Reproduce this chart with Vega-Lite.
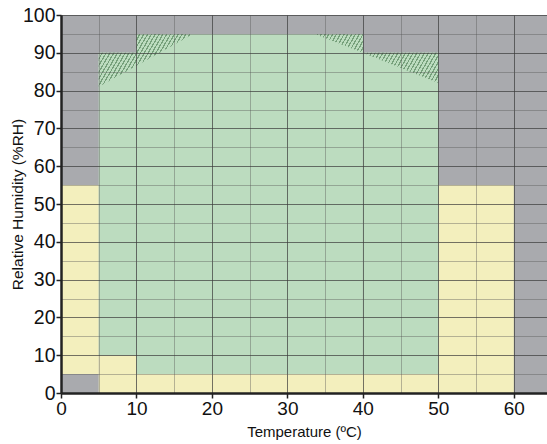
{
  "$schema": "https://vega.github.io/schema/vega-lite/v6.json",
  "autosize": {"type": "none"},
  "padding": {"left": 61, "top": 15, "right": 0, "bottom": 51},
  "width": 486,
  "height": 378,
  "background": "white",
  "config": {
    "view": {"stroke": null, "fill": "#a9aaae"},
    "font": "Liberation Sans"
  },
  "datasets": {
    "regions": [
      {"x": 0, "x2": 5, "y": 5, "y2": 55, "kind": "yellow"},
      {"x": 5, "x2": 10, "y": 0, "y2": 10, "kind": "yellow"},
      {"x": 10, "x2": 50, "y": 0, "y2": 5, "kind": "yellow"},
      {"x": 50, "x2": 60, "y": 0, "y2": 55, "kind": "yellow"},
      {"x": 5, "x2": 10, "y": 10, "y2": 90, "kind": "green"},
      {"x": 10, "x2": 40, "y": 5, "y2": 95, "kind": "green"},
      {"x": 40, "x2": 50, "y": 5, "y2": 90, "kind": "green"}
    ],
    "hatchL": [
      {"x": 5, "y": 81, "y2": 90},
      {"x": 10, "y": 86.6, "y2": 90},
      {"x": 10.001, "y": 86.6, "y2": 95},
      {"x": 17.5, "y": 95, "y2": 95}
    ],
    "hatchR": [
      {"x": 33.6, "y": 95, "y2": 95},
      {"x": 40, "y": 90, "y2": 95},
      {"x": 40.001, "y": 90, "y2": 90},
      {"x": 50, "y": 82, "y2": 90}
    ]
  },
  "encoding": {
    "x": {
      "field": "x", "type": "quantitative",
      "scale": {"domain": [0, 64.4], "nice": false, "zero": false},
      "axis": {
        "title": "Temperature (ºC)",
        "values": [0, 5, 10, 15, 20, 25, 30, 35, 40, 45, 50, 55, 60],
        "labelExpr": "datum.value % 10 === 0 ? datum.label : ''",
        "labelFlush": false,
        "grid": true,
        "gridColor": {"condition": {"test": "datum.value % 10 === 0", "value": "#3a3a3a"}, "value": "#555555"},
        "gridOpacity": {"condition": {"test": "datum.value % 10 === 0", "value": 0.7}, "value": 0.4},
        "tickOpacity": {"condition": {"test": "datum.value % 10 === 0", "value": 1}, "value": 0},
        "tickSize": 5, "tickColor": "#222222", "tickWidth": 1.5,
        "domainColor": "#222222", "domainWidth": 2.5,
        "labelFont": "Liberation Sans", "labelFontSize": 19, "labelColor": "#111111", "labelPadding": 1,
        "titleFont": "Liberation Sans", "titleFontSize": 15, "titleFontWeight": "normal", "titleColor": "#111111", "titlePadding": 6,
        "zindex": 1
      }
    },
    "y": {
      "field": "y", "type": "quantitative",
      "scale": {"domain": [0, 100], "nice": false, "zero": false},
      "axis": {
        "title": "Relative Humidity (%RH)",
        "values": [0, 5, 10, 15, 20, 25, 30, 35, 40, 45, 50, 55, 60, 65, 70, 75, 80, 85, 90, 95, 100],
        "labelExpr": "datum.value % 10 === 0 ? datum.label : ''",
        "grid": true,
        "gridColor": {"condition": {"test": "datum.value % 10 === 0", "value": "#3a3a3a"}, "value": "#555555"},
        "gridOpacity": {"condition": {"test": "datum.value % 10 === 0", "value": 0.7}, "value": 0.4},
        "tickOpacity": {"condition": {"test": "datum.value % 10 === 0", "value": 1}, "value": 0},
        "tickSize": 5, "tickColor": "#222222", "tickWidth": 1.5,
        "domainColor": "#222222", "domainWidth": 2.5,
        "labelFont": "Liberation Sans", "labelFontSize": 19.5, "labelColor": "#111111", "labelPadding": 1,
        "titleFont": "Liberation Sans", "titleFontSize": 15.5, "titleFontWeight": "normal", "titleColor": "#111111", "titlePadding": -3,
        "zindex": 1
      }
    }
  },
  "layer": [
    {
      "data": {"name": "regions"},
      "mark": {"type": "rect", "opacity": 1},
      "encoding": {
        "x2": {"field": "x2"},
        "y2": {"field": "y2"},
        "color": {"field": "kind", "type": "nominal", "scale": {"domain": ["yellow", "green"], "range": ["#f3efbd", "#bcdcbf"]}, "legend": null}
      }
    },
    {
      "data": {"name": "hatchL"},
      "mark": {"type": "area", "opacity": 1, "fill": {"gradient": "linear", "x1": 0, "y1": 0, "x2": 1.466, "y2": 0.478, "stops": [
        {"offset": 0, "color": "#bcdcbf"}, {"offset": 0.016, "color": "#bcdcbf"}, {"offset": 0.016, "color": "#76a07b"}, {"offset": 0.025, "color": "#76a07b"},
        {"offset": 0.025, "color": "#bcdcbf"}, {"offset": 0.041, "color": "#bcdcbf"}, {"offset": 0.041, "color": "#76a07b"}, {"offset": 0.05, "color": "#76a07b"},
        {"offset": 0.05, "color": "#bcdcbf"}, {"offset": 0.066, "color": "#bcdcbf"}, {"offset": 0.066, "color": "#76a07b"}, {"offset": 0.075, "color": "#76a07b"},
        {"offset": 0.075, "color": "#bcdcbf"}, {"offset": 0.091, "color": "#bcdcbf"}, {"offset": 0.091, "color": "#76a07b"}, {"offset": 0.1, "color": "#76a07b"},
        {"offset": 0.1, "color": "#bcdcbf"}, {"offset": 0.116, "color": "#bcdcbf"}, {"offset": 0.116, "color": "#76a07b"}, {"offset": 0.125, "color": "#76a07b"},
        {"offset": 0.125, "color": "#bcdcbf"}, {"offset": 0.141, "color": "#bcdcbf"}, {"offset": 0.141, "color": "#76a07b"}, {"offset": 0.15, "color": "#76a07b"},
        {"offset": 0.15, "color": "#bcdcbf"}, {"offset": 0.166, "color": "#bcdcbf"}, {"offset": 0.166, "color": "#76a07b"}, {"offset": 0.175, "color": "#76a07b"},
        {"offset": 0.175, "color": "#bcdcbf"}, {"offset": 0.191, "color": "#bcdcbf"}, {"offset": 0.191, "color": "#76a07b"}, {"offset": 0.2, "color": "#76a07b"},
        {"offset": 0.2, "color": "#bcdcbf"}, {"offset": 0.216, "color": "#bcdcbf"}, {"offset": 0.216, "color": "#76a07b"}, {"offset": 0.225, "color": "#76a07b"},
        {"offset": 0.225, "color": "#bcdcbf"}, {"offset": 0.241, "color": "#bcdcbf"}, {"offset": 0.241, "color": "#76a07b"}, {"offset": 0.25, "color": "#76a07b"},
        {"offset": 0.25, "color": "#bcdcbf"}, {"offset": 0.266, "color": "#bcdcbf"}, {"offset": 0.266, "color": "#76a07b"}, {"offset": 0.275, "color": "#76a07b"},
        {"offset": 0.275, "color": "#bcdcbf"}, {"offset": 0.291, "color": "#bcdcbf"}, {"offset": 0.291, "color": "#76a07b"}, {"offset": 0.3, "color": "#76a07b"},
        {"offset": 0.3, "color": "#bcdcbf"}, {"offset": 0.316, "color": "#bcdcbf"}, {"offset": 0.316, "color": "#76a07b"}, {"offset": 0.325, "color": "#76a07b"},
        {"offset": 0.325, "color": "#bcdcbf"}, {"offset": 0.341, "color": "#bcdcbf"}, {"offset": 0.341, "color": "#76a07b"}, {"offset": 0.35, "color": "#76a07b"},
        {"offset": 0.35, "color": "#bcdcbf"}, {"offset": 0.366, "color": "#bcdcbf"}, {"offset": 0.366, "color": "#76a07b"}, {"offset": 0.375, "color": "#76a07b"},
        {"offset": 0.375, "color": "#bcdcbf"}, {"offset": 0.391, "color": "#bcdcbf"}, {"offset": 0.391, "color": "#76a07b"}, {"offset": 0.4, "color": "#76a07b"},
        {"offset": 0.4, "color": "#bcdcbf"}, {"offset": 0.416, "color": "#bcdcbf"}, {"offset": 0.416, "color": "#76a07b"}, {"offset": 0.425, "color": "#76a07b"},
        {"offset": 0.425, "color": "#bcdcbf"}, {"offset": 0.441, "color": "#bcdcbf"}, {"offset": 0.441, "color": "#76a07b"}, {"offset": 0.45, "color": "#76a07b"},
        {"offset": 0.45, "color": "#bcdcbf"}, {"offset": 0.466, "color": "#bcdcbf"}, {"offset": 0.466, "color": "#76a07b"}, {"offset": 0.475, "color": "#76a07b"},
        {"offset": 0.475, "color": "#bcdcbf"}, {"offset": 0.491, "color": "#bcdcbf"}, {"offset": 0.491, "color": "#76a07b"}, {"offset": 0.5, "color": "#76a07b"},
        {"offset": 0.5, "color": "#bcdcbf"}, {"offset": 0.516, "color": "#bcdcbf"}, {"offset": 0.516, "color": "#76a07b"}, {"offset": 0.525, "color": "#76a07b"},
        {"offset": 0.525, "color": "#bcdcbf"}, {"offset": 0.541, "color": "#bcdcbf"}, {"offset": 0.541, "color": "#76a07b"}, {"offset": 0.55, "color": "#76a07b"},
        {"offset": 0.55, "color": "#bcdcbf"}, {"offset": 0.566, "color": "#bcdcbf"}, {"offset": 0.566, "color": "#76a07b"}, {"offset": 0.575, "color": "#76a07b"},
        {"offset": 0.575, "color": "#bcdcbf"}, {"offset": 0.591, "color": "#bcdcbf"}, {"offset": 0.591, "color": "#76a07b"}, {"offset": 0.6, "color": "#76a07b"},
        {"offset": 0.6, "color": "#bcdcbf"}, {"offset": 0.616, "color": "#bcdcbf"}, {"offset": 0.616, "color": "#76a07b"}, {"offset": 0.625, "color": "#76a07b"},
        {"offset": 0.625, "color": "#bcdcbf"}, {"offset": 0.641, "color": "#bcdcbf"}, {"offset": 0.641, "color": "#76a07b"}, {"offset": 0.65, "color": "#76a07b"},
        {"offset": 0.65, "color": "#bcdcbf"}, {"offset": 0.666, "color": "#bcdcbf"}, {"offset": 0.666, "color": "#76a07b"}, {"offset": 0.675, "color": "#76a07b"},
        {"offset": 0.675, "color": "#bcdcbf"}, {"offset": 0.691, "color": "#bcdcbf"}, {"offset": 0.691, "color": "#76a07b"}, {"offset": 0.7, "color": "#76a07b"},
        {"offset": 0.7, "color": "#bcdcbf"}, {"offset": 0.716, "color": "#bcdcbf"}, {"offset": 0.716, "color": "#76a07b"}, {"offset": 0.725, "color": "#76a07b"},
        {"offset": 0.725, "color": "#bcdcbf"}, {"offset": 0.741, "color": "#bcdcbf"}, {"offset": 0.741, "color": "#76a07b"}, {"offset": 0.75, "color": "#76a07b"},
        {"offset": 0.75, "color": "#bcdcbf"}, {"offset": 0.766, "color": "#bcdcbf"}, {"offset": 0.766, "color": "#76a07b"}, {"offset": 0.775, "color": "#76a07b"},
        {"offset": 0.775, "color": "#bcdcbf"}, {"offset": 0.791, "color": "#bcdcbf"}, {"offset": 0.791, "color": "#76a07b"}, {"offset": 0.8, "color": "#76a07b"},
        {"offset": 0.8, "color": "#bcdcbf"}, {"offset": 0.816, "color": "#bcdcbf"}, {"offset": 0.816, "color": "#76a07b"}, {"offset": 0.825, "color": "#76a07b"},
        {"offset": 0.825, "color": "#bcdcbf"}, {"offset": 0.841, "color": "#bcdcbf"}, {"offset": 0.841, "color": "#76a07b"}, {"offset": 0.85, "color": "#76a07b"},
        {"offset": 0.85, "color": "#bcdcbf"}, {"offset": 0.866, "color": "#bcdcbf"}, {"offset": 0.866, "color": "#76a07b"}, {"offset": 0.875, "color": "#76a07b"},
        {"offset": 0.875, "color": "#bcdcbf"}, {"offset": 0.891, "color": "#bcdcbf"}, {"offset": 0.891, "color": "#76a07b"}, {"offset": 0.9, "color": "#76a07b"},
        {"offset": 0.9, "color": "#bcdcbf"}, {"offset": 0.916, "color": "#bcdcbf"}, {"offset": 0.916, "color": "#76a07b"}, {"offset": 0.925, "color": "#76a07b"},
        {"offset": 0.925, "color": "#bcdcbf"}, {"offset": 0.941, "color": "#bcdcbf"}, {"offset": 0.941, "color": "#76a07b"}, {"offset": 0.95, "color": "#76a07b"},
        {"offset": 0.95, "color": "#bcdcbf"}, {"offset": 0.966, "color": "#bcdcbf"}, {"offset": 0.966, "color": "#76a07b"}, {"offset": 0.975, "color": "#76a07b"},
        {"offset": 0.975, "color": "#bcdcbf"}, {"offset": 0.991, "color": "#bcdcbf"}, {"offset": 0.991, "color": "#76a07b"}, {"offset": 1, "color": "#76a07b"}
      ]}},
      "encoding": {"y2": {"field": "y2"}}
    },
    {
      "data": {"name": "hatchR"},
      "mark": {"type": "area", "opacity": 1, "fill": {"gradient": "linear", "x1": 0, "y1": 0, "x2": 1.167, "y2": 0.266, "stops": [
        {"offset": 0, "color": "#bcdcbf"}, {"offset": 0.016, "color": "#bcdcbf"}, {"offset": 0.016, "color": "#76a07b"}, {"offset": 0.025, "color": "#76a07b"},
        {"offset": 0.025, "color": "#bcdcbf"}, {"offset": 0.041, "color": "#bcdcbf"}, {"offset": 0.041, "color": "#76a07b"}, {"offset": 0.05, "color": "#76a07b"},
        {"offset": 0.05, "color": "#bcdcbf"}, {"offset": 0.066, "color": "#bcdcbf"}, {"offset": 0.066, "color": "#76a07b"}, {"offset": 0.075, "color": "#76a07b"},
        {"offset": 0.075, "color": "#bcdcbf"}, {"offset": 0.091, "color": "#bcdcbf"}, {"offset": 0.091, "color": "#76a07b"}, {"offset": 0.1, "color": "#76a07b"},
        {"offset": 0.1, "color": "#bcdcbf"}, {"offset": 0.116, "color": "#bcdcbf"}, {"offset": 0.116, "color": "#76a07b"}, {"offset": 0.125, "color": "#76a07b"},
        {"offset": 0.125, "color": "#bcdcbf"}, {"offset": 0.141, "color": "#bcdcbf"}, {"offset": 0.141, "color": "#76a07b"}, {"offset": 0.15, "color": "#76a07b"},
        {"offset": 0.15, "color": "#bcdcbf"}, {"offset": 0.166, "color": "#bcdcbf"}, {"offset": 0.166, "color": "#76a07b"}, {"offset": 0.175, "color": "#76a07b"},
        {"offset": 0.175, "color": "#bcdcbf"}, {"offset": 0.191, "color": "#bcdcbf"}, {"offset": 0.191, "color": "#76a07b"}, {"offset": 0.2, "color": "#76a07b"},
        {"offset": 0.2, "color": "#bcdcbf"}, {"offset": 0.216, "color": "#bcdcbf"}, {"offset": 0.216, "color": "#76a07b"}, {"offset": 0.225, "color": "#76a07b"},
        {"offset": 0.225, "color": "#bcdcbf"}, {"offset": 0.241, "color": "#bcdcbf"}, {"offset": 0.241, "color": "#76a07b"}, {"offset": 0.25, "color": "#76a07b"},
        {"offset": 0.25, "color": "#bcdcbf"}, {"offset": 0.266, "color": "#bcdcbf"}, {"offset": 0.266, "color": "#76a07b"}, {"offset": 0.275, "color": "#76a07b"},
        {"offset": 0.275, "color": "#bcdcbf"}, {"offset": 0.291, "color": "#bcdcbf"}, {"offset": 0.291, "color": "#76a07b"}, {"offset": 0.3, "color": "#76a07b"},
        {"offset": 0.3, "color": "#bcdcbf"}, {"offset": 0.316, "color": "#bcdcbf"}, {"offset": 0.316, "color": "#76a07b"}, {"offset": 0.325, "color": "#76a07b"},
        {"offset": 0.325, "color": "#bcdcbf"}, {"offset": 0.341, "color": "#bcdcbf"}, {"offset": 0.341, "color": "#76a07b"}, {"offset": 0.35, "color": "#76a07b"},
        {"offset": 0.35, "color": "#bcdcbf"}, {"offset": 0.366, "color": "#bcdcbf"}, {"offset": 0.366, "color": "#76a07b"}, {"offset": 0.375, "color": "#76a07b"},
        {"offset": 0.375, "color": "#bcdcbf"}, {"offset": 0.391, "color": "#bcdcbf"}, {"offset": 0.391, "color": "#76a07b"}, {"offset": 0.4, "color": "#76a07b"},
        {"offset": 0.4, "color": "#bcdcbf"}, {"offset": 0.416, "color": "#bcdcbf"}, {"offset": 0.416, "color": "#76a07b"}, {"offset": 0.425, "color": "#76a07b"},
        {"offset": 0.425, "color": "#bcdcbf"}, {"offset": 0.441, "color": "#bcdcbf"}, {"offset": 0.441, "color": "#76a07b"}, {"offset": 0.45, "color": "#76a07b"},
        {"offset": 0.45, "color": "#bcdcbf"}, {"offset": 0.466, "color": "#bcdcbf"}, {"offset": 0.466, "color": "#76a07b"}, {"offset": 0.475, "color": "#76a07b"},
        {"offset": 0.475, "color": "#bcdcbf"}, {"offset": 0.491, "color": "#bcdcbf"}, {"offset": 0.491, "color": "#76a07b"}, {"offset": 0.5, "color": "#76a07b"},
        {"offset": 0.5, "color": "#bcdcbf"}, {"offset": 0.516, "color": "#bcdcbf"}, {"offset": 0.516, "color": "#76a07b"}, {"offset": 0.525, "color": "#76a07b"},
        {"offset": 0.525, "color": "#bcdcbf"}, {"offset": 0.541, "color": "#bcdcbf"}, {"offset": 0.541, "color": "#76a07b"}, {"offset": 0.55, "color": "#76a07b"},
        {"offset": 0.55, "color": "#bcdcbf"}, {"offset": 0.566, "color": "#bcdcbf"}, {"offset": 0.566, "color": "#76a07b"}, {"offset": 0.575, "color": "#76a07b"},
        {"offset": 0.575, "color": "#bcdcbf"}, {"offset": 0.591, "color": "#bcdcbf"}, {"offset": 0.591, "color": "#76a07b"}, {"offset": 0.6, "color": "#76a07b"},
        {"offset": 0.6, "color": "#bcdcbf"}, {"offset": 0.616, "color": "#bcdcbf"}, {"offset": 0.616, "color": "#76a07b"}, {"offset": 0.625, "color": "#76a07b"},
        {"offset": 0.625, "color": "#bcdcbf"}, {"offset": 0.641, "color": "#bcdcbf"}, {"offset": 0.641, "color": "#76a07b"}, {"offset": 0.65, "color": "#76a07b"},
        {"offset": 0.65, "color": "#bcdcbf"}, {"offset": 0.666, "color": "#bcdcbf"}, {"offset": 0.666, "color": "#76a07b"}, {"offset": 0.675, "color": "#76a07b"},
        {"offset": 0.675, "color": "#bcdcbf"}, {"offset": 0.691, "color": "#bcdcbf"}, {"offset": 0.691, "color": "#76a07b"}, {"offset": 0.7, "color": "#76a07b"},
        {"offset": 0.7, "color": "#bcdcbf"}, {"offset": 0.716, "color": "#bcdcbf"}, {"offset": 0.716, "color": "#76a07b"}, {"offset": 0.725, "color": "#76a07b"},
        {"offset": 0.725, "color": "#bcdcbf"}, {"offset": 0.741, "color": "#bcdcbf"}, {"offset": 0.741, "color": "#76a07b"}, {"offset": 0.75, "color": "#76a07b"},
        {"offset": 0.75, "color": "#bcdcbf"}, {"offset": 0.766, "color": "#bcdcbf"}, {"offset": 0.766, "color": "#76a07b"}, {"offset": 0.775, "color": "#76a07b"},
        {"offset": 0.775, "color": "#bcdcbf"}, {"offset": 0.791, "color": "#bcdcbf"}, {"offset": 0.791, "color": "#76a07b"}, {"offset": 0.8, "color": "#76a07b"},
        {"offset": 0.8, "color": "#bcdcbf"}, {"offset": 0.816, "color": "#bcdcbf"}, {"offset": 0.816, "color": "#76a07b"}, {"offset": 0.825, "color": "#76a07b"},
        {"offset": 0.825, "color": "#bcdcbf"}, {"offset": 0.841, "color": "#bcdcbf"}, {"offset": 0.841, "color": "#76a07b"}, {"offset": 0.85, "color": "#76a07b"},
        {"offset": 0.85, "color": "#bcdcbf"}, {"offset": 0.866, "color": "#bcdcbf"}, {"offset": 0.866, "color": "#76a07b"}, {"offset": 0.875, "color": "#76a07b"},
        {"offset": 0.875, "color": "#bcdcbf"}, {"offset": 0.891, "color": "#bcdcbf"}, {"offset": 0.891, "color": "#76a07b"}, {"offset": 0.9, "color": "#76a07b"},
        {"offset": 0.9, "color": "#bcdcbf"}, {"offset": 0.916, "color": "#bcdcbf"}, {"offset": 0.916, "color": "#76a07b"}, {"offset": 0.925, "color": "#76a07b"},
        {"offset": 0.925, "color": "#bcdcbf"}, {"offset": 0.941, "color": "#bcdcbf"}, {"offset": 0.941, "color": "#76a07b"}, {"offset": 0.95, "color": "#76a07b"},
        {"offset": 0.95, "color": "#bcdcbf"}, {"offset": 0.966, "color": "#bcdcbf"}, {"offset": 0.966, "color": "#76a07b"}, {"offset": 0.975, "color": "#76a07b"},
        {"offset": 0.975, "color": "#bcdcbf"}, {"offset": 0.991, "color": "#bcdcbf"}, {"offset": 0.991, "color": "#76a07b"}, {"offset": 1, "color": "#76a07b"}
      ]}},
      "encoding": {"y2": {"field": "y2"}}
    }
  ]
}
